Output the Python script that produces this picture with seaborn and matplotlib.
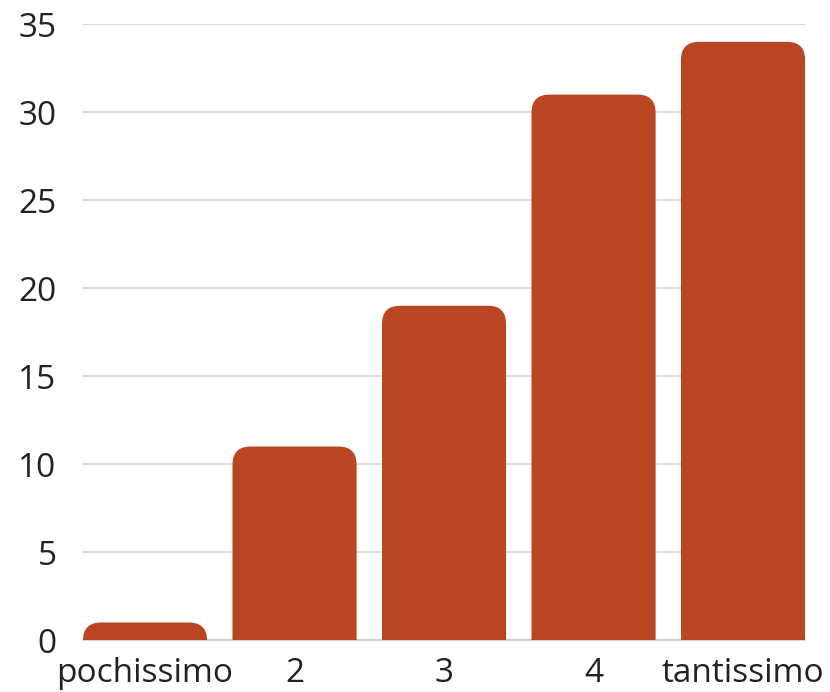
import matplotlib
matplotlib.use("Agg")
import matplotlib.pyplot as plt
import seaborn as sns
import pandas as pd
from matplotlib.patches import FancyBboxPatch

# data
categories = ["pochissimo", "2", "3", "4", "tantissimo"]
values = [1, 11, 19, 31, 34]
yticks = [0, 5, 10, 15, 20, 25, 30, 35]

bar_color = "#B94522"
text_color = "#222222"

df = pd.DataFrame({"risposta": categories, "conteggio": values})

sns.set_theme(style="white")
plt.rcParams["font.family"] = ["Open Sans", "DejaVu Sans"]

fig = plt.figure(figsize=(8.3, 6.92), dpi=100)
ax = fig.add_axes([0.1, 0.075, 0.87, 0.89])

width = 0.83
sns.barplot(data=df, x="risposta", y="conteggio", color=bar_color,
            saturation=1, width=width, ax=ax, zorder=3)

ax.set_xlim(-width / 2, len(categories) - 1 + width / 2)
ax.set_ylim(0, 35)
ax.set_yticks(yticks)
ax.yaxis.grid(True, color="#dddddd", linewidth=1.5, zorder=0)
ax.set_axisbelow(True)

# swap the square bars for ones with rounded tops
fig.canvas.draw()
bbox = ax.get_window_extent()
px_x = bbox.width / (ax.get_xlim()[1] - ax.get_xlim()[0])
px_y = bbox.height / (ax.get_ylim()[1] - ax.get_ylim()[0])
r_px = 18
r_x = r_px / px_x
aspect = px_x / px_y
for p in list(ax.patches):
    x0, w, h = p.get_x(), p.get_width(), p.get_height()
    p.remove()
    ext = r_px / px_y
    box = FancyBboxPatch((x0, -ext), w, h + ext,
                         boxstyle=f"round,pad=0,rounding_size={r_x}",
                         mutation_aspect=aspect, facecolor=bar_color,
                         edgecolor="none", zorder=3)
    ax.add_patch(box)

for s in ["top", "right", "left"]:
    ax.spines[s].set_visible(False)
ax.spines["bottom"].set_color("#cccccc")
ax.spines["bottom"].set_linewidth(1.2)

ax.set_xlabel("")
ax.set_ylabel("")
ax.tick_params(axis="y", length=0, pad=19, labelsize=24, labelcolor=text_color)
ax.tick_params(axis="x", length=0, pad=12, labelsize=24, labelcolor=text_color)

fig.savefig("out.png", dpi=100, facecolor="white")
